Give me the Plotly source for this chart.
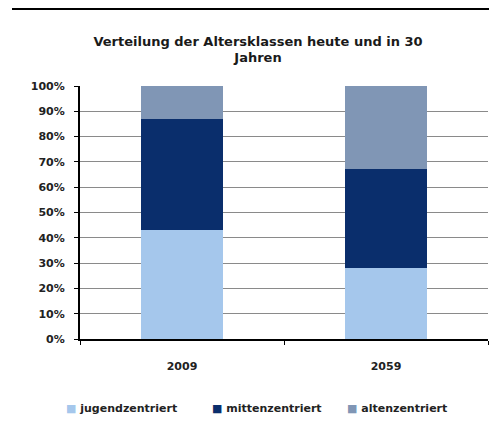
import plotly.graph_objects as go

categories = ["2009", "2059"]
series_names = ["jugendzentriert", "mittenzentriert", "altenzentriert"]
jugend = [43, 28]
mitte = [44, 39]
alten = [13, 33]
colors = ["#A5C7EC", "#0A2E6C", "#8096B5"]
y_ticks = [0, 10, 20, 30, 40, 50, 60, 70, 80, 90, 100]
y_tick_text = [f"{v}%" for v in y_ticks]

font_family = "DejaVu Sans, Verdana, sans-serif"
OFF = 8  # page body margin
W, H = 497 - OFF, 429 - OFF
L, R, T, B = 80 - OFF, 9, 86 - OFF, 90
PW, PH = W - L - R, H - T - B

def px_x(x):
    return (x - OFF - L) / PW

def px_y(y):
    return (H - B - (y - OFF)) / PH

fig = go.Figure()
for name, vals, col in zip(series_names, [jugend, mitte, alten], colors):
    fig.add_trace(go.Bar(x=categories, y=vals, name=name,
                         marker=dict(color=col, line=dict(width=0))))

fig.update_layout(
    barmode="stack",
    bargap=0.6,
    width=W, height=H,
    margin=dict(l=L, r=R, t=T, b=B),
    paper_bgcolor="white", plot_bgcolor="white",
    font=dict(family=font_family, size=11, color="#222222", weight="bold"),
    title=dict(
        text="Verteilung der Altersklassen heute und in 30<br>Jahren",
        x=(258 - OFF) / W, xanchor="center", y=1 - (45.5 - OFF) / H, yanchor="middle",
        font=dict(family=font_family, size=13, color="#1a1a1a", weight="bold"),
    ),
    showlegend=False,
)
fig.update_yaxes(
    range=[0, 100], tickvals=y_ticks, ticktext=y_tick_text,
    showgrid=True, gridcolor="#8a8a8a", gridwidth=1,
    showline=True, linecolor="black", linewidth=2,
    ticks="outside", ticklen=4, tickcolor="black", tickwidth=1,
    ticklabelstandoff=7,
    tickfont=dict(size=11, weight="bold"), zeroline=False, automargin=False,
)
fig.update_xaxes(
    showline=True, linecolor="black", linewidth=2,
    ticks="outside", ticklen=4, tickcolor="black", tickwidth=1,
    tickson="boundaries", ticklabelstandoff=16,
    tickfont=dict(size=11, weight="bold"), automargin=False,
)
fig.add_shape(type="line", xref="paper", yref="paper",
              x0=px_x(12), x1=px_x(497 + 5), y0=px_y(9), y1=px_y(9),
              line=dict(color="black", width=2))

legend_x = [64, 210, 345]
for name, col, lx in zip(series_names, colors, legend_x):
    fig.add_annotation(
        xref="paper", yref="paper", x=px_x(lx), y=px_y(408),
        xanchor="left", yanchor="middle", showarrow=False,
        text=f"<span style='color:{col}'>■</span> {name}",
        font=dict(family=font_family, size=11, color="#222222", weight="bold"),
    )
fig.write_html("out.html")
